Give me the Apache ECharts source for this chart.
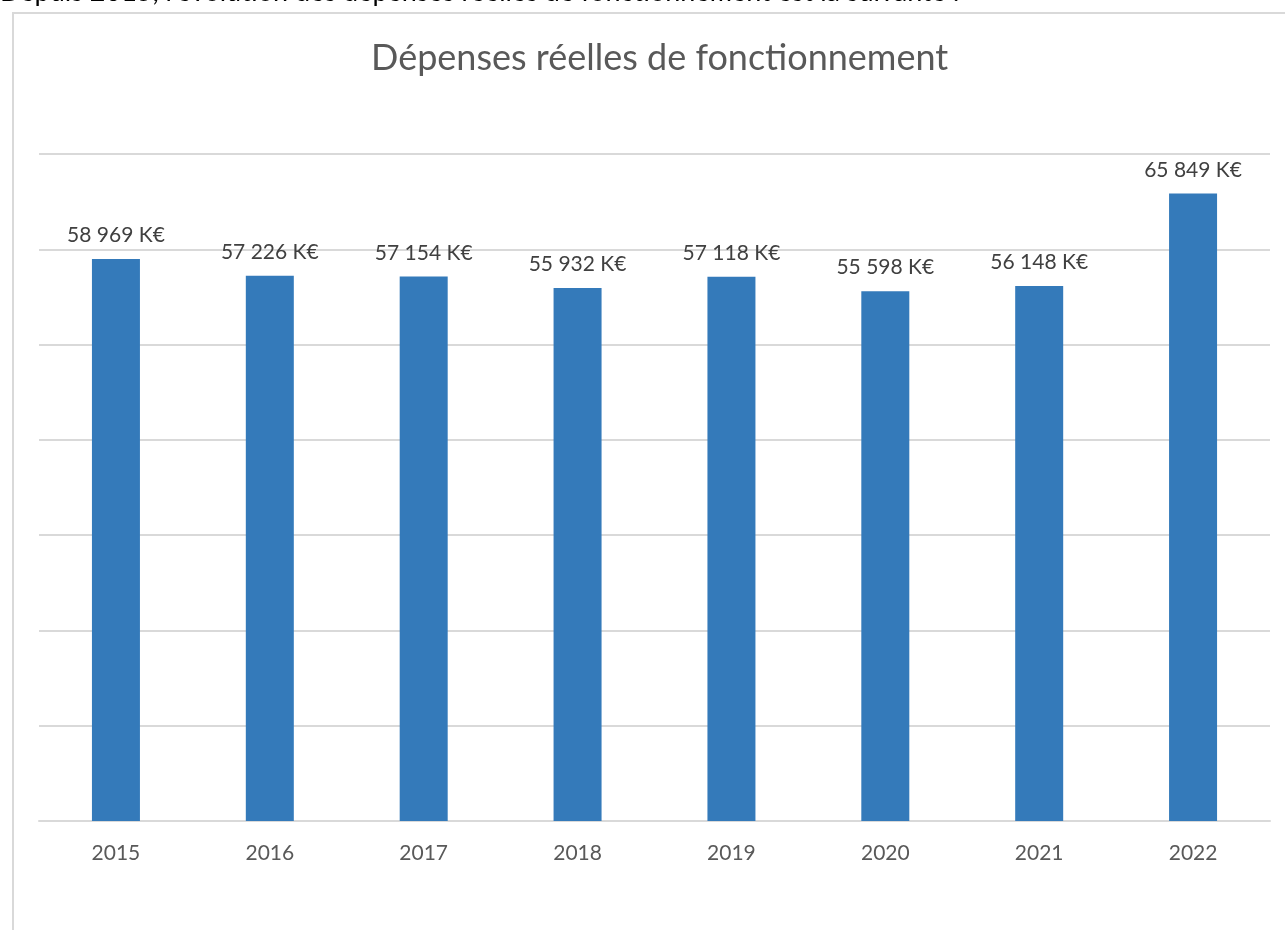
<!DOCTYPE html>
<html>
<head>
<meta charset="utf-8">
<script src="https://cdn.jsdelivr.net/npm/echarts@6/dist/echarts.min.js"></script>
<style>
html,body{margin:0;padding:0;background:#fff;}
#c{width:1285px;height:930px;}
</style>
</head>
<body>
<div id="c"></div>
<script>
var categories = ['2015','2016','2017','2018','2019','2020','2021','2022'];
var values = [58969, 57226, 57154, 55932, 57118, 55598, 56148, 65849];
var titleText = 'Dépenses réelles de fonctionnement';
var introText = "Depuis 2015, l'évolution des dépenses réelles de fonctionnement est la suivante :";

function fmt(v){
  return String(v).replace(/\B(?=(\d{3})+(?!\d))/g, ' ') + ' K€';
}

var chart = echarts.init(document.getElementById('c'));
chart.setOption({
  backgroundColor: '#fff',
  animation: false,
  title: {
    text: titleText,
    left: 366,
    top: 35,
    textStyle: { fontFamily: 'Lato', fontWeight: 'normal', fontSize: 36, color: '#595959' }
  },
  graphic: [
    {
      type: 'rect',
      shape: { x: 13, y: 13, width: 1300, height: 1000 },
      style: { fill: 'none', stroke: '#d9d9d9', lineWidth: 2 },
      z: -1
    },
    {
      type: 'text',
      left: 0,
      top: -21,
      style: { text: introText, fontFamily: 'Lato', fontSize: 27, fill: '#000' }
    }
  ],
  grid: { left: 39, right: 15, top: 154, bottom: 109, containLabel: false },
  xAxis: {
    type: 'category',
    data: categories,
    axisLine: { lineStyle: { color: '#d9d9d9', width: 2 } },
    axisTick: { show: false },
    axisLabel: { fontFamily: 'Lato', fontSize: 21, color: '#595959', margin: 22 }
  },
  yAxis: {
    type: 'value',
    min: 0, max: 70000, interval: 10000,
    axisLabel: { show: false },
    axisLine: { show: false },
    axisTick: { show: false },
    splitLine: { lineStyle: { color: '#d9d9d9', width: 2 } }
  },
  series: [{
    type: 'bar',
    data: values,
    barWidth: 48,
    itemStyle: { color: '#347ABA' },
    label: {
      show: true,
      position: 'top',
      distance: 13,
      formatter: function(p){ return fmt(p.value); },
      fontFamily: 'Lato', fontSize: 21, color: '#404040'
    }
  }]
});
</script>
</body>
</html>
